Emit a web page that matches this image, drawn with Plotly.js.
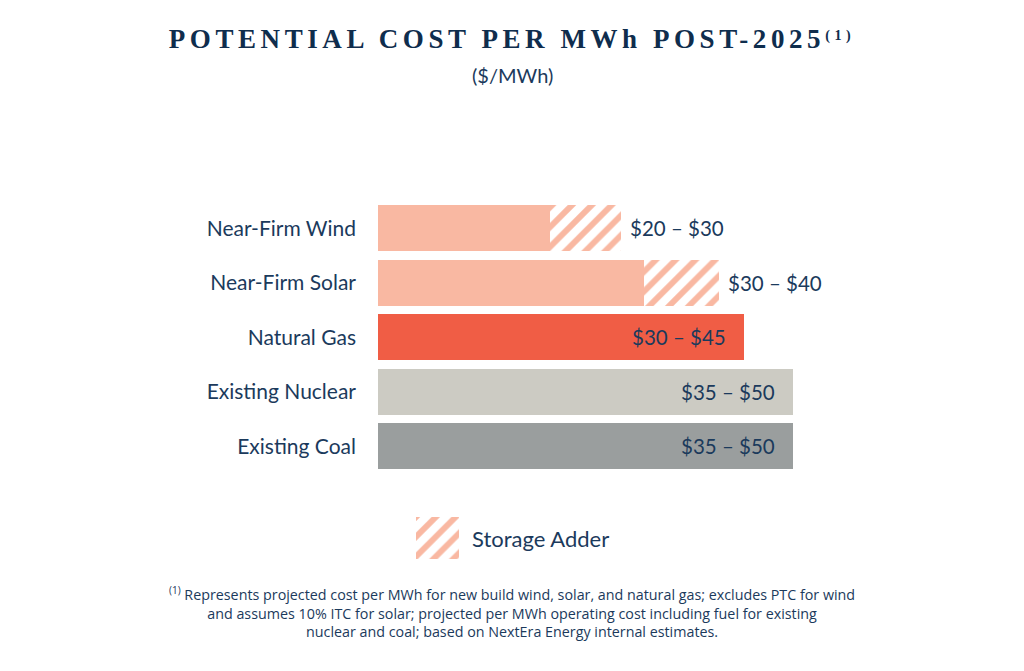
<!DOCTYPE html>
<html>
<head>
<meta charset="utf-8">
<script src="https://cdn.plot.ly/plotly-3.0.1.min.js"></script>
<style>
  html, body { margin: 0; padding: 0; background: #ffffff; }
  #chart { width: 1024px; height: 671px; }
</style>
</head>
<body>
<div id="chart"></div>
<script>
// ---- data ----
const categories = ['Near-Firm Wind', 'Near-Firm Solar', 'Natural Gas', 'Existing Nuclear', 'Existing Coal'];
const baseCost = [20.7, 32.1, 44.1, 50, 50];
const storageAdder = [8.6, 9.0, 0, 0, 0];
const rangeLabels = ['$20 – $30', '$30 – $40', '$30 – $45', '$35 – $50', '$35 – $50'];
const barColors = ['#f9b8a2', '#f9b8a2', '#f05d45', '#cccbc3', '#9a9e9e'];
const legendLabel = ['Storage Adder'];
const legendValue = [1];

const titleText = 'POTENTIAL COST PER MWh POST-2025<span style="font-size:20px"><sup>(1)</sup></span>';
const subtitleText = '($/MWh)';
const footnoteText = '<sup>(1)</sup> Represents projected cost per MWh for new build wind, solar, and natural gas; excludes PTC for wind<br>' +
  'and assumes 10% ITC for solar; projected per MWh operating cost including fuel for existing<br>' +
  'nuclear and coal; based on NextEra Energy internal estimates.';

const NAVY = '#1b3a5c';
const TITLE_NAVY = '#0f2d4d';
const SANS = 'Lato, "Open Sans", sans-serif';
const W = 1024, H = 671;

const hatch = {shape: '/', fgcolor: '#f9b8a2', bgcolor: '#ffffff', size: 14, solidity: 0.42};

const traces = [
  {
    type: 'bar', orientation: 'h', name: 'Cost',
    y: categories, x: baseCost,
    marker: {color: barColors, line: {width: 0}},
    hoverinfo: 'skip'
  },
  {
    type: 'bar', orientation: 'h', name: 'Storage Adder',
    y: categories, x: storageAdder,
    marker: {color: '#ffffff', pattern: hatch, line: {width: 0}},
    hoverinfo: 'skip'
  },
  {
    type: 'bar', orientation: 'h', name: 'legend swatch',
    y: legendLabel, x: legendValue, width: [1],
    xaxis: 'x2', yaxis: 'y2',
    marker: {color: '#ffffff', pattern: hatch, line: {width: 0}},
    hoverinfo: 'skip'
  }
];

const annotations = [];
categories.forEach((c, i) => {
  const total = baseCost[i] + storageAdder[i];
  const inside = storageAdder[i] === 0;
  annotations.push({
    x: total, y: c, xref: 'x', yref: 'y',
    text: rangeLabels[i], showarrow: false,
    xanchor: inside ? 'right' : 'left',
    xshift: inside ? -16 : 7,
    font: {family: SANS, size: 20.5, color: NAVY}
  });
});
annotations.push({
  x: 1, y: legendLabel[0], xref: 'x2', yref: 'y2',
  text: legendLabel[0], showarrow: false, xanchor: 'left', xshift: 11,
  font: {family: SANS, size: 22, color: NAVY}
});
annotations.push({
  x: 0.5, y: 1 - 75 / H, xref: 'paper', yref: 'paper',
  text: subtitleText, showarrow: false, xanchor: 'center', yanchor: 'middle',
  font: {family: SANS, size: 20, color: NAVY}
});
annotations.push({
  x: 0.5, y: 1 - 612 / H, xref: 'paper', yref: 'paper',
  text: footnoteText, showarrow: false, xanchor: 'center', yanchor: 'middle', align: 'center',
  font: {family: '"Open Sans", Roboto, sans-serif', size: 14.3, color: NAVY}
});

const layout = {
  width: W, height: H,
  margin: {l: 0, r: 0, t: 0, b: 0},
  paper_bgcolor: '#ffffff', plot_bgcolor: '#ffffff',
  showlegend: false,
  barmode: 'stack', bargap: 0.156,
  title: {
    text: titleText,
    x: 0.5, xanchor: 'center', xref: 'paper',
    y: 1 - 39 / H, yanchor: 'middle', yref: 'container',
    font: {family: '"Liberation Serif", "DejaVu Serif", serif', size: 27, color: TITLE_NAVY, weight: 'bold'}
  },
  xaxis: {
    domain: [378 / W, 875.6 / W], range: [0, 60], visible: false, fixedrange: true
  },
  yaxis: {
    domain: [1 - 473.6 / H, 1 - 201.1 / H],
    type: 'category', categoryorder: 'array', categoryarray: categories,
    range: [4.5, -0.5], autorange: false,
    showgrid: false, zeroline: false, showline: false, ticks: '',
    ticklabelstandoff: 21, automargin: false,
    tickfont: {family: SANS, size: 21, color: NAVY}
  },
  xaxis2: {
    domain: [416 / W, 459 / W], anchor: 'y2', range: [0, 1], visible: false, fixedrange: true
  },
  yaxis2: {
    domain: [1 - 559 / H, 1 - 517 / H], anchor: 'x2', type: 'category',
    range: [-0.5, 0.5], autorange: false, visible: false
  },
  annotations: annotations
};

Plotly.newPlot('chart', traces, layout, {displayModeBar: false, staticPlot: true}).then(gd => {
  const t = gd.querySelector('.gtitle');
  if (t) {
    const targetWidth = 696;
    const w0 = t.getBBox().width;
    const n = (t.textContent || '').length;
    if (n > 1 && w0 > 0) {
      const ls = Math.max(0, (targetWidth - w0) / n);
      t.style.letterSpacing = ls.toFixed(2) + 'px';
    }
  }
});
</script>
</body>
</html>
